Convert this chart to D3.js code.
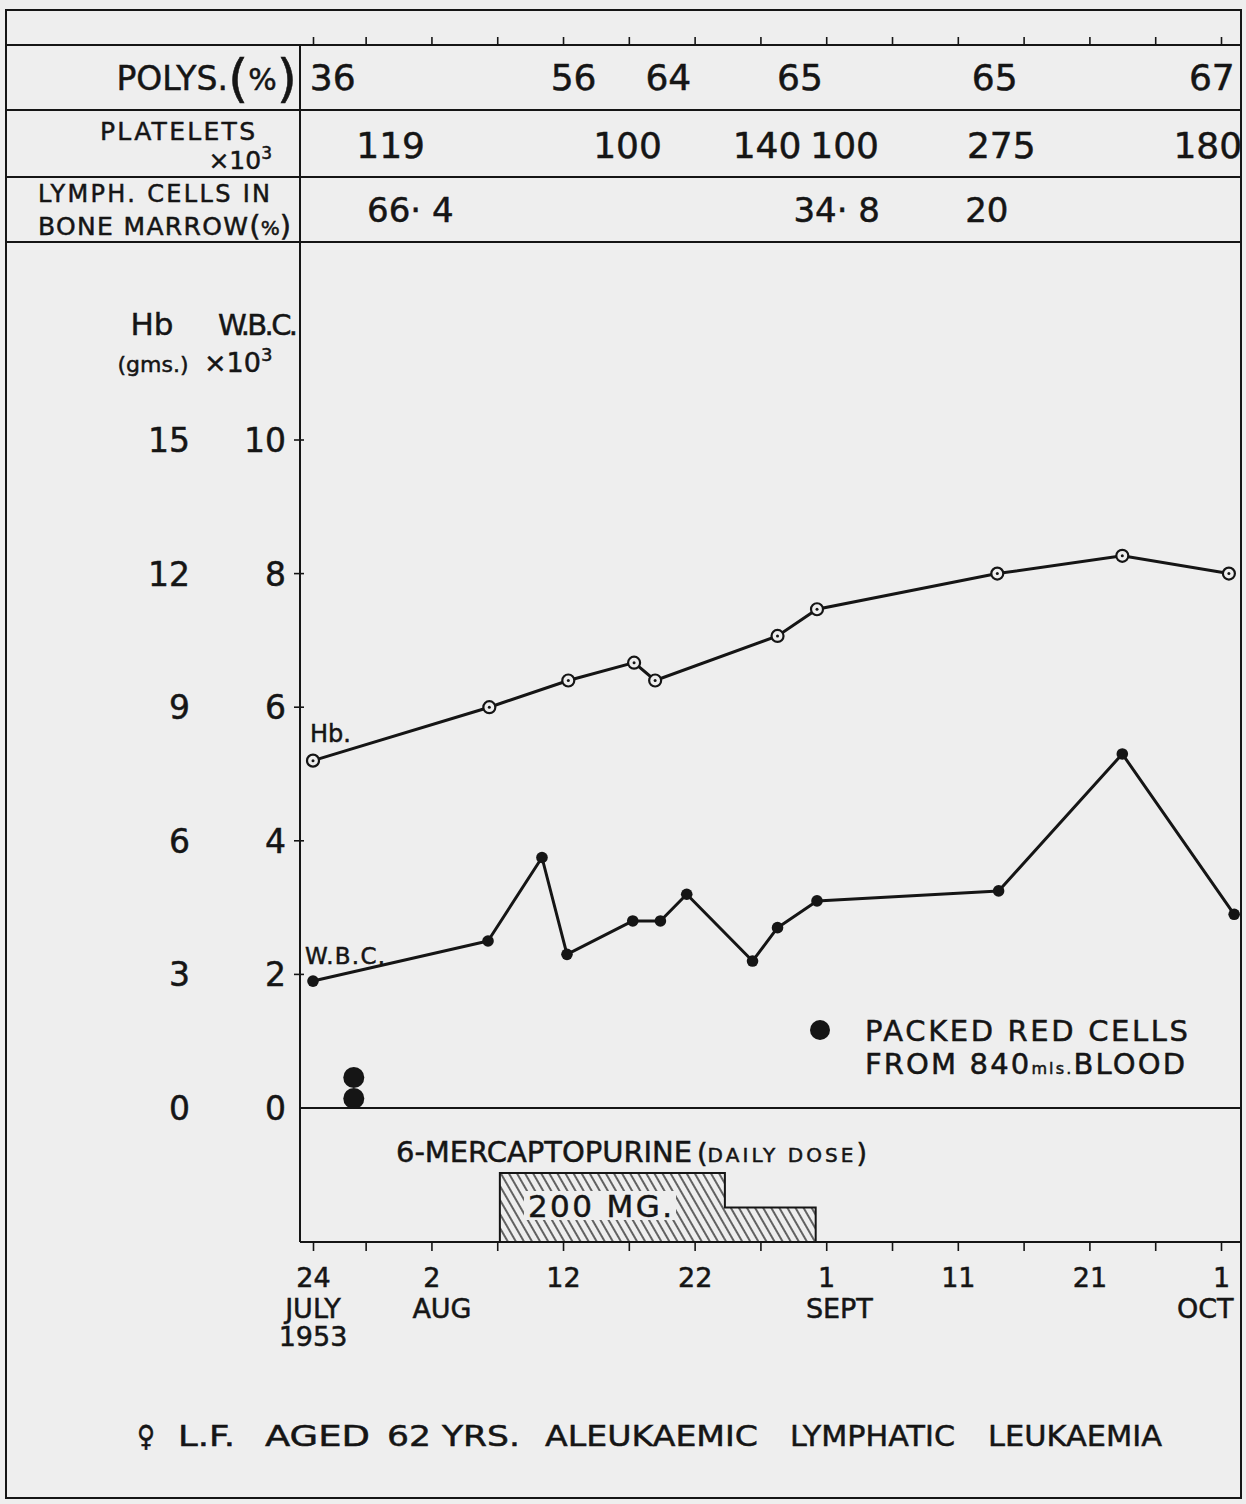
<!DOCTYPE html>
<html>
<head>
<meta charset="utf-8">
<script src="https://cdn.jsdelivr.net/npm/d3@7"></script>
<style>
  html, body { margin: 0; padding: 0; background: #eeeeee; }
  svg { display: block; }
  text { font-family: "DejaVu Sans", "Noto Sans", sans-serif; fill: #151515; stroke: #151515; stroke-width: 0.5px; }
</style>
</head>
<body>
<script>
// ---- data (days counted from 24 July 1953) ----
const hbDays    = [0, 13.4, 19.4, 24.4, 26.0, 35.3, 38.3, 52.0, 61.5, 69.6];
const hbValues  = [7.8, 9.0, 9.6, 10.0, 9.6, 10.6, 11.2, 12.0, 12.4, 12.0];

const wbcDays   = [0, 13.3, 17.4, 19.3, 24.3, 26.4, 28.4, 33.4, 35.3, 38.3, 52.1, 61.5, 70.0];
const wbcValues = [1.9, 2.5, 3.75, 2.3, 2.8, 2.8, 3.2, 2.2, 2.7, 3.1, 3.25, 5.3, 2.9];

const transfusionDays = [3.1, 3.1];          // packed red cells from 840 ml blood

const polysDays   = [1.5, 19.8, 27.0, 37.0, 51.8, 68.3];
const polysValues = [36, 56, 64, 65, 65, 67];

const plateletDays   = [5.9, 23.9, 34.5, 40.4, 52.3, 68.0];
const plateletValues = [119, 100, 140, 100, 275, 180];

const lymphDays   = [7.4, 39.8, 51.2];
const lymphValues = [66.4, 34.8, 20];

const doseStart = [14.2, 31.3];
const doseEnd   = [31.3, 38.2];
const doseMg    = [200, 100];

const tickDays   = [0, 4, 9, 14, 19, 24, 29, 34, 39, 44, 49, 54, 59, 64, 69];
const dayLabels  = { 0: "24", 9: "2", 19: "12", 29: "22", 39: "1", 49: "11", 59: "21", 69: "1" };
const monthNames = ["JULY", "AUG", "SEPT", "OCT"];
const monthDays  = [0, 9.8, 40.0, 67.8];

const wbcTicks = [0, 2, 4, 6, 8, 10];
const hbTicks  = [0, 3, 6, 9, 12, 15];

const captionWords = ["♀", "L.F.", "AGED", "62 YRS.", "ALEUKAEMIC", "LYMPHATIC", "LEUKAEMIA"];

// ---- layout ----
const W = 1246, H = 1504;
const frame = { l: 6, r: 1241, t: 10, b: 1498 };
const divX = 300;
const topAxisY = 45, row1 = 110, row2 = 177, row3 = 242;
const baseY = 1242;
const ink = "#151515", paper = "#eeeeee";

const x   = d3.scaleLinear().domain([0, 69]).range([313, 1221]);
const yW  = d3.scaleLinear().domain([0, 10]).range([1108, 440]);
const yH  = d3.scaleLinear().domain([0, 15]).range([1108, 440]);
const yD  = d3.scaleLinear().domain([0, 200]).range([baseY, 1173]);

const svg = d3.select("body").append("svg").attr("width", W).attr("height", H);
svg.append("rect").attr("width", W).attr("height", H).attr("fill", paper);

// hatch for the drug bars
const defs = svg.append("defs");
const pat = defs.append("pattern").attr("id", "hatch").attr("patternUnits", "userSpaceOnUse")
  .attr("width", 7).attr("height", 7).attr("patternTransform", "rotate(-30)");
pat.append("line").attr("x1", 1).attr("y1", 0).attr("x2", 1).attr("y2", 7)
  .attr("stroke", ink).attr("stroke-width", 1.3);

// ---- frame and table rules ----
const g = svg.append("g").attr("stroke", ink).attr("fill", "none");
g.append("rect").attr("x", frame.l).attr("y", frame.t)
  .attr("width", frame.r - frame.l).attr("height", frame.b - frame.t).attr("stroke-width", 2);
[topAxisY, row1, row2, row3].forEach(yy =>
  g.append("line").attr("x1", frame.l).attr("x2", frame.r).attr("y1", yy).attr("y2", yy).attr("stroke-width", 2));
g.append("line").attr("x1", divX).attr("x2", divX).attr("y1", topAxisY).attr("y2", baseY).attr("stroke-width", 2);
g.append("line").attr("x1", divX).attr("x2", frame.r).attr("y1", yW(0)).attr("y2", yW(0)).attr("stroke-width", 2);
g.append("line").attr("x1", divX).attr("x2", frame.r).attr("y1", baseY).attr("y2", baseY).attr("stroke-width", 2);

// ---- top and bottom date axes ----
const topAxis = d3.axisTop(x).tickValues(tickDays).tickSize(8).tickSizeOuter(0).tickFormat("");
const tA = svg.append("g").attr("transform", `translate(0,${topAxisY})`).call(topAxis);
tA.select(".domain").remove();
tA.selectAll("line").attr("stroke", ink).attr("stroke-width", 1.6);

const botAxis = d3.axisBottom(x).tickValues(tickDays).tickSize(9).tickSizeOuter(0).tickPadding(12)
  .tickFormat(d => dayLabels[d] || "");
const bA = svg.append("g").attr("transform", `translate(0,${baseY})`).call(botAxis);
bA.select(".domain").remove();
bA.selectAll("line").attr("stroke", ink).attr("stroke-width", 1.6);
bA.selectAll("text").attr("font-size", 27).attr("fill", ink)
  .attr("font-family", "'DejaVu Sans', sans-serif").attr("dy", "0.9em");

svg.selectAll(".month").data(monthNames).join("text")
  .attr("x", (d, i) => x(monthDays[i])).attr("y", 1318)
  .attr("text-anchor", "middle").attr("font-size", 27).text(d => d);
svg.append("text").attr("x", x(0)).attr("y", 1346).attr("text-anchor", "middle")
  .attr("font-size", 27).text("1953");

// ---- left value axis (ticks on divider, two label columns) ----
svg.selectAll(".ytick").data(wbcTicks.filter(d => d > 0)).join("line")
  .attr("x1", divX - 6).attr("x2", divX + 4).attr("y1", d => yW(d)).attr("y2", d => yW(d))
  .attr("stroke", ink).attr("stroke-width", 1.6);
svg.selectAll(".wlab").data(wbcTicks).join("text")
  .attr("x", 286).attr("y", d => yW(d) + 12).attr("text-anchor", "end")
  .attr("font-size", 33).text(d => d);
svg.selectAll(".hlab").data(hbTicks).join("text")
  .attr("x", 190).attr("y", d => yH(d) + 12).attr("text-anchor", "end")
  .attr("font-size", 33).text(d => d);

svg.append("text").attr("x", 152).attr("y", 335).attr("text-anchor", "middle").attr("font-size", 31).text("Hb");
svg.append("text").attr("x", 258).attr("y", 335).attr("text-anchor", "middle").attr("font-size", 29)
  .attr("textLength", 80).text("W.B.C.");
svg.append("text").attr("x", 153).attr("y", 372).attr("text-anchor", "middle").attr("font-size", 22).text("(gms.)");
const x10 = svg.append("text").attr("x", 204).attr("y", 372).attr("font-size", 27);
x10.append("tspan").text("×10");
x10.append("tspan").attr("font-size", 18).attr("dy", -11).text("3");

// ---- table labels ----
const polysLab = svg.append("text").attr("x", 297).attr("y", 90).attr("text-anchor", "end");
polysLab.append("tspan").attr("font-size", 33).text("POLYS.");
polysLab.append("tspan").attr("font-size", 52).attr("dy", 6).text("(");
polysLab.append("tspan").attr("font-size", 30).attr("dy", -6).text("%");
polysLab.append("tspan").attr("font-size", 52).attr("dy", 6).text(")");

svg.append("text").attr("x", 100).attr("y", 140).attr("font-size", 25)
  .attr("textLength", 155).text("PLATELETS");
const plx = svg.append("text").attr("x", 272).attr("y", 169).attr("text-anchor", "end").attr("font-size", 25);
plx.append("tspan").text("×10");
plx.append("tspan").attr("font-size", 17).attr("dy", -10).text("3");

svg.append("text").attr("x", 38).attr("y", 202).attr("font-size", 24).attr("textLength", 232).text("LYMPH. CELLS IN");
const bm = svg.append("text").attr("x", 38).attr("y", 235).attr("font-size", 25);
bm.append("tspan").attr("textLength", 210).text("BONE MARROW");
bm.append("tspan").attr("font-size", 29).attr("dy", 1).text("(");
bm.append("tspan").attr("font-size", 20).attr("dy", -1).text("%");
bm.append("tspan").attr("font-size", 29).attr("dy", 1).text(")");

// ---- table values ----
svg.selectAll(".polys").data(polysValues).join("text")
  .attr("x", (d, i) => x(polysDays[i])).attr("y", 90).attr("text-anchor", "middle")
  .attr("font-size", 36).text(d => d);
svg.selectAll(".plat").data(plateletValues).join("text")
  .attr("x", (d, i) => x(plateletDays[i])).attr("y", 158).attr("text-anchor", "middle")
  .attr("font-size", 36).text(d => d);
svg.selectAll(".lymph").data(lymphValues).join("text")
  .attr("x", (d, i) => x(lymphDays[i])).attr("y", 222).attr("text-anchor", "middle")
  .attr("font-size", 34).text(d => String(d).replace(".", "· "));

// ---- Hb and W.B.C. lines ----
const hb  = hbDays.map((d, i) => [d, hbValues[i]]);
const wbc = wbcDays.map((d, i) => [d, wbcValues[i]]);

svg.append("path").datum(hb).attr("fill", "none").attr("stroke", ink).attr("stroke-width", 3)
  .attr("d", d3.line().x(d => x(d[0])).y(d => yH(d[1])));
svg.append("path").datum(wbc).attr("fill", "none").attr("stroke", ink).attr("stroke-width", 3)
  .attr("stroke-linejoin", "round")
  .attr("d", d3.line().x(d => x(d[0])).y(d => yW(d[1])));

svg.selectAll(".hbpt").data(hb).join("circle")
  .attr("cx", d => x(d[0])).attr("cy", d => yH(d[1])).attr("r", 6)
  .attr("fill", paper).attr("stroke", ink).attr("stroke-width", 2.2);
svg.selectAll(".hbdot").data(hb).join("circle")
  .attr("cx", d => x(d[0])).attr("cy", d => yH(d[1])).attr("r", 1.5).attr("fill", ink);
svg.selectAll(".wpt").data(wbc).join("circle")
  .attr("cx", d => x(d[0])).attr("cy", d => yW(d[1])).attr("r", 5.8).attr("fill", ink);

svg.append("text").attr("x", 310).attr("y", 742).attr("font-size", 24).text("Hb.");
svg.append("text").attr("x", 305).attr("y", 964).attr("font-size", 23).attr("textLength", 80).text("W.B.C.");

// ---- transfusions ----
const tr = 10.5;
svg.selectAll(".tx").data(transfusionDays).join("circle")
  .attr("cx", d => x(d)).attr("cy", (d, i) => yW(0) - tr - i * 2 * tr + 1).attr("r", tr).attr("fill", ink);

svg.append("circle").attr("cx", 820).attr("cy", 1030).attr("r", 10).attr("fill", ink);
svg.append("text").attr("x", 865).attr("y", 1041).attr("font-size", 29).attr("textLength", 323).text("PACKED RED CELLS");
const fr = svg.append("text").attr("x", 865).attr("y", 1074).attr("font-size", 29).attr("textLength", 320);
fr.append("tspan").text("FROM 840");
fr.append("tspan").attr("font-size", 16).text("mls.");
fr.append("tspan").text("BLOOD");

// ---- 6-mercaptopurine daily dose ----
const doses = doseMg.map((m, i) => ({ s: doseStart[i], e: doseEnd[i], mg: m }));
svg.selectAll(".dose").data(doses).join("rect")
  .attr("x", d => x(d.s)).attr("width", d => x(d.e) - x(d.s))
  .attr("y", d => yD(d.mg)).attr("height", d => yD(0) - yD(d.mg))
  .attr("fill", "url(#hatch)");
const outline = [[doses[0].s, 0], [doses[0].s, doses[0].mg]];
doses.forEach(d => { outline.push([d.s, d.mg]); outline.push([d.e, d.mg]); });
outline.push([doses[doses.length - 1].e, 0]);
svg.append("path").datum(outline).attr("fill", "none").attr("stroke", ink).attr("stroke-width", 2)
  .attr("d", d3.line().x(d => x(d[0])).y(d => yD(d[1])));

svg.append("rect").attr("x", 524).attr("y", 1191).attr("width", 152).attr("height", 29).attr("fill", paper);
svg.append("text").attr("x", 528).attr("y", 1217).attr("font-size", 31).attr("textLength", 144).text("200 MG.");

const drug = svg.append("text").attr("x", 396).attr("y", 1162);
drug.append("tspan").attr("font-size", 29).attr("textLength", 296).text("6-MERCAPTOPURINE");
drug.append("tspan").attr("font-size", 27).attr("dx", 5).text("(");
drug.append("tspan").attr("font-size", 20).attr("textLength", 146).text("DAILY  DOSE");
drug.append("tspan").attr("font-size", 27).text(")");

// ---- caption ----
const capX = [137, 178, 265, 387, 545, 790, 988];
const capW = [18, 57, 105, 133, 213, 165, 174];
svg.selectAll(".cap").data(captionWords).join("text")
  .attr("x", (d, i) => capX[i]).attr("y", 1446).attr("font-size", 29)
  .attr("textLength", (d, i) => capW[i]).attr("lengthAdjust", "spacingAndGlyphs")
  .text(d => d);
</script>
</body>
</html>
